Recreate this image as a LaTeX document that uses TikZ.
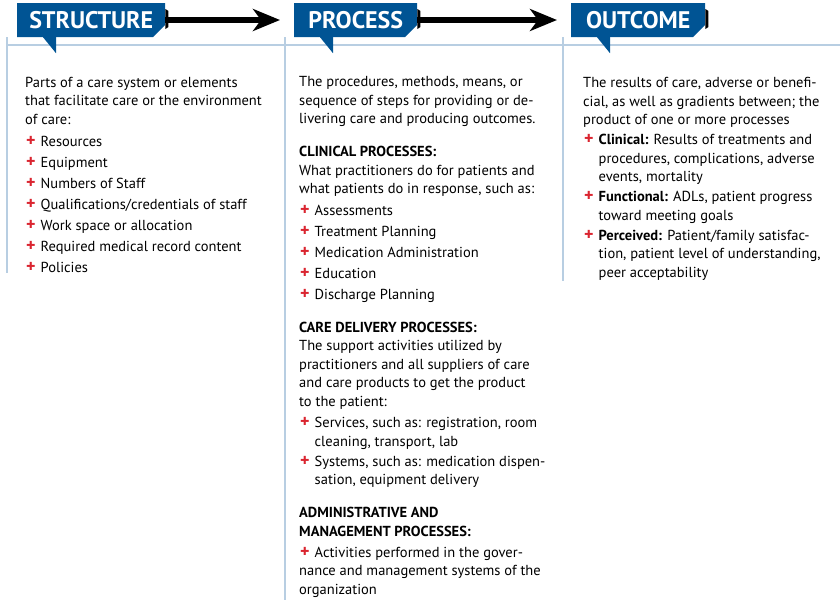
\documentclass[tikz,border=0pt]{standalone}
\usepackage{fontspec}
\setmainfont{PT Sans}
\usetikzlibrary{arrows.meta}
\usetikzlibrary{shapes.misc}

\definecolor{bannerblue}{RGB}{0,84,148}
\definecolor{rulegray}{RGB}{184,206,226}
\definecolor{plusred}{RGB}{218,37,48}

\newcommand{\pl}{\makebox[15.5pt][l]{\hspace{1pt}\textcolor{plusred}{\bfseries\fontsize{18}{18}\selectfont+}}}
\newcommand{\ind}{\hspace*{15.5pt}}

\begin{document}
\begin{tikzpicture}[x=1pt,y=-1pt]
\tikzset{banner/.style={chamfered rectangle, chamfered rectangle corners=south east, chamfered rectangle xsep=6pt, chamfered rectangle ysep=6pt, fill=bannerblue, text=white, font=\bfseries\fontsize{24}{24}\selectfont, minimum height=34pt, inner sep=0pt, anchor=west}}
\tikzset{tail/.style={fill=bannerblue}}
\tikzset{flow/.style={line width=5.5pt, -{Stealth[length=27pt,width=22pt,inset=8pt]}, shorten >=14pt}}
\tikzset{rule/.style={draw=rulegray, line width=2.5pt}}
\tikzset{coltext/.style={anchor=base west, align=left, inner sep=0pt, font=\fontsize{14.5}{18.5}\selectfont}}

\useasboundingbox (0,0) rectangle (840,600);

% rules under the headings
\draw[rule] (7,45) -- (840,45);
\draw[rule] (7,37) -- (7,273);
\draw[rule] (285,37) -- (285,600);
\draw[rule] (563,37) -- (563,281);

% headings
\node[banner, minimum width=148pt] (structure) at (17,20) {STRUCTURE};
\node[banner, minimum width=123pt] (process) at (294,20) {PROCESS};
\node[banner, minimum width=134pt] (outcome) at (571,20) {OUTCOME};
\foreach \b in {structure, process, outcome} {
  \fill[tail] (\b.south west) ++(26,0) -- ++(13,0) -- ++(0,16) -- cycle;
  \fill (\b.east) ++(0,-11) -- ++(3,2) -- ++(0,16) -- ++(-3,2) -- cycle;
}
\draw[flow] (structure.east) -- (process.west);
\draw[flow] (process.east) -- (outcome.west);

% column texts, placed by their last baseline
\node[coltext] (structtext) at (25,272) {Parts of a care system or elements\\
that facilitate care or the environment\\
of care:\\[3.5pt]
\pl Resources\\[2.5pt]
\pl Equipment\\[2.5pt]
\pl Numbers of Staff\\[2.5pt]
\pl Qualifications/credentials of staff\\[2.5pt]
\pl Work space or allocation\\[2.5pt]
\pl Required medical record content\\[2.5pt]
\pl Policies};

\node[coltext] (proctext) at (299,594) {The procedures, methods, means, or\\
sequence of steps for providing or de-\\
livering care and producing outcomes.\\[14.5pt]
\textbf{CLINICAL PROCESSES:}\\
What practitioners do for patients and\\
what patients do in response, such as:\\[3pt]
\pl Assessments\\[2.5pt]
\pl Treatment Planning\\[2.5pt]
\pl Medication Administration\\[2.5pt]
\pl Education\\[2.5pt]
\pl Discharge Planning\\[14.5pt]
\textbf{CARE DELIVERY PROCESSES:}\\
The support activities utilized by\\
practitioners and all suppliers of care\\
and care products to get the product\\
to the patient:\\[3pt]
\pl Services, such as: registration, room\\
\ind cleaning, transport, lab\\[1.5pt]
\pl Systems, such as: medication dispen-\\
\ind sation, equipment delivery\\[14.5pt]
\textbf{ADMINISTRATIVE AND}\\
\textbf{MANAGEMENT PROCESSES:}\\[2.5pt]
\pl Activities performed in the gover-\\
nance and management systems of the\\
organization};

\node[coltext] (outtext) at (583,277) {The results of care, adverse or benefi-\\
cial, as well as gradients between; the\\
product of one or more processes\\[1.5pt]
\pl\textbf{Clinical:} Results of treatments and\\
\ind procedures, complications, adverse\\
\ind events, mortality\\[1.5pt]
\pl\textbf{Functional:} ADLs, patient progress\\
\ind toward meeting goals\\[1.5pt]
\pl\textbf{Perceived:} Patient/family satisfac-\\
\ind tion, patient level of understanding,\\
\ind peer acceptability};
\end{tikzpicture}
\end{document}
